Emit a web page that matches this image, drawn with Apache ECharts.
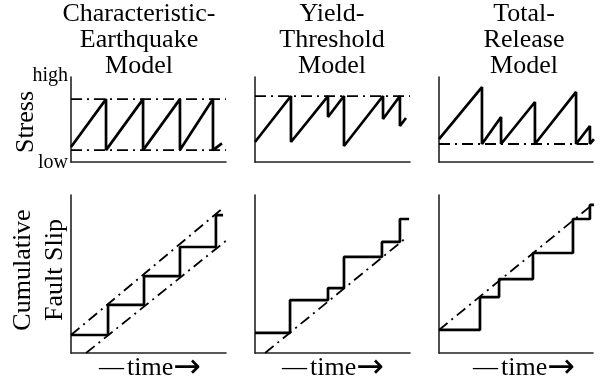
<!DOCTYPE html>
<html>
<head>
<meta charset="utf-8">
<script src="https://cdn.jsdelivr.net/npm/echarts@6/dist/echarts.min.js"></script>
<style>html,body{margin:0;padding:0;background:#fff;}#c{width:600px;height:381px;}</style>
</head>
<body>
<div id="c"></div>
<script>
// ---- data (time 0-100, value 0-100 within each panel) ----
const titles = ['Characteristic-\nEarthquake\nModel', 'Yield-\nThreshold\nModel', 'Total-\nRelease\nModel'];
const stressTickLabels = ['high', 'low'];
const stressAxisName = 'Stress';
const slipAxisName = 'Cumulative\nFault Slip';
const timeWord = 'time';

// Stress histories (sawtooth vertices)
const stressCE = [[0,17.6],[22.6,74],[22.6,14],[46.5,74],[46.5,14],[70.3,74],[70.3,14],[91.6,74],[91.6,14],[97.4,22]];
const stressYT = [[0,23.5],[23.2,77.6],[23.2,23.5],[47.1,77.6],[47.1,52.9],[57.4,77.6],[57.4,18.8],[82.6,77.6],[82.6,50.6],[93.5,77.6],[93.5,42.4],[97.4,51.8]];
const stressTR = [[0,27],[27.9,88.2],[27.9,21.2],[40.3,52.9],[40.3,21.2],[62.3,70.6],[62.3,21.2],[89,82.4],[89,21.2],[98,42.4],[98,21.2],[100.6,27]];

// Reference stress levels (dash-dot lines)
const ceFailure = [[0,74],[100,74]];
const ceBase = [[0,14],[100,14]];
const ytFailure = [[0,77.6],[100,77.6]];
const trBase = [[0,21.2],[100,21.2]];

// Cumulative slip: event times and slip after each event
const slipCE = [[0,11.4],[23.9,30.4],[47.1,48.7],[70.3,67.1],[93.5,87.3],[98.1,87.3]];
const slipYT = [[0,12.7],[22.6,33.5],[47.1,41.1],[57.4,60.8],[81.9,70.3],[93.5,84.8],[99.4,84.8]];
const slipTR = [[0,14.6],[26.6,35.4],[39,46.8],[61,63.3],[87,84.8],[98,93.7],[100.6,93.7]];

// Reference slip trends (dash-dot lines)
const ceUpperTrend = [[0,11.4],[98.1,91.8]];
const ceLowerTrend = [[9.7,0],[100,71]];
const ytTrend = [[6.5,0],[98.1,73.4]];
const trTrend = [[0,14.6],[99.4,93.7]];

// ---- layout ----
const colLeft = [71, 255, 439];
const colWidth = [155, 155, 154];
const rowTop = [77, 195];
const rowHeight = [85, 158];
const titleCenter = [139, 332, 524];
const timeCenter = [150, 333, 524];
const FONT = '"Liberation Serif", "DejaVu Serif", serif';

const grids = [], xAxes = [], yAxes = [], series = [];
const axisLine = {show: true, onZero: false, lineStyle: {color: '#222', width: 1.6}};
for (let r = 0; r < 2; r++) {
  for (let c = 0; c < 3; c++) {
    grids.push({left: colLeft[c], top: rowTop[r], width: colWidth[c], height: rowHeight[r], containLabel: false});
    const gi = grids.length - 1;
    xAxes.push({type: 'value', gridIndex: gi, min: 0, max: 100, axisLine: axisLine, axisTick: {show: false}, axisLabel: {show: false}, splitLine: {show: false}});
    yAxes.push({type: 'value', gridIndex: gi, min: 0, max: 100, axisLine: axisLine, axisTick: {show: false}, axisLabel: {show: false}, splitLine: {show: false}});
  }
}
const solid = {color: '#000', width: 2.7};
const dashdot = {color: '#000', width: 1.8, type: [11, 5, 2, 5]};
function addLine(gi, data, style, step) {
  series.push({type: 'line', xAxisIndex: gi, yAxisIndex: gi, data: data, symbol: 'none', clip: false,
    step: step || false, lineStyle: style, silent: true, animation: false, z: style === solid ? 3 : 2});
}
addLine(0, ceFailure, dashdot); addLine(0, ceBase, dashdot); addLine(0, stressCE, solid);
addLine(1, ytFailure, dashdot); addLine(1, stressYT, solid);
addLine(2, trBase, dashdot); addLine(2, stressTR, solid);
addLine(3, ceUpperTrend, dashdot); addLine(3, ceLowerTrend, dashdot); addLine(3, slipCE, solid, 'end');
addLine(4, ytTrend, dashdot); addLine(4, slipYT, solid, 'end');
addLine(5, trTrend, dashdot); addLine(5, slipTR, solid, 'end');

const graphics = [];
for (let c = 0; c < 3; c++) {
  graphics.push({type: 'text', x: titleCenter[c], y: 1, style: {text: titles[c], font: '26px ' + FONT, fill: '#000', align: 'center', verticalAlign: 'top', lineHeight: 26}});
  graphics.push({type: 'text', x: timeCenter[c], y: 368, style: {
    text: '{d|\u2014}{t|' + timeWord + '}{a|\u2192}', align: 'center', verticalAlign: 'middle',
    rich: {
      d: {font: '25px ' + FONT, fill: '#000', padding: [0, 3, 0, 0]},
      t: {font: '26px ' + FONT, fill: '#000'},
      a: {font: '33px "DejaVu Sans", sans-serif', fill: '#000', padding: [0, 0, 0, 0]}
    }}});
}
graphics.push({type: 'text', x: 68, y: 76, style: {text: stressTickLabels[0], font: '20px ' + FONT, fill: '#000', align: 'right', verticalAlign: 'middle'}});
graphics.push({type: 'text', x: 68, y: 163, style: {text: stressTickLabels[1], font: '20px ' + FONT, fill: '#000', align: 'right', verticalAlign: 'middle'}});
graphics.push({type: 'text', x: 26, y: 122, rotation: Math.PI / 2, style: {text: stressAxisName, font: '26px ' + FONT, fill: '#000', align: 'center', verticalAlign: 'middle'}});
graphics.push({type: 'text', x: 39, y: 270, rotation: Math.PI / 2, style: {text: slipAxisName, font: '26px ' + FONT, fill: '#000', align: 'center', verticalAlign: 'middle', lineHeight: 32}});

const chart = echarts.init(document.getElementById('c'), null, {renderer: 'canvas'});
chart.setOption({animation: false, backgroundColor: '#fff', grid: grids, xAxis: xAxes, yAxis: yAxes, series: series, graphic: graphics});
</script>
</body>
</html>
